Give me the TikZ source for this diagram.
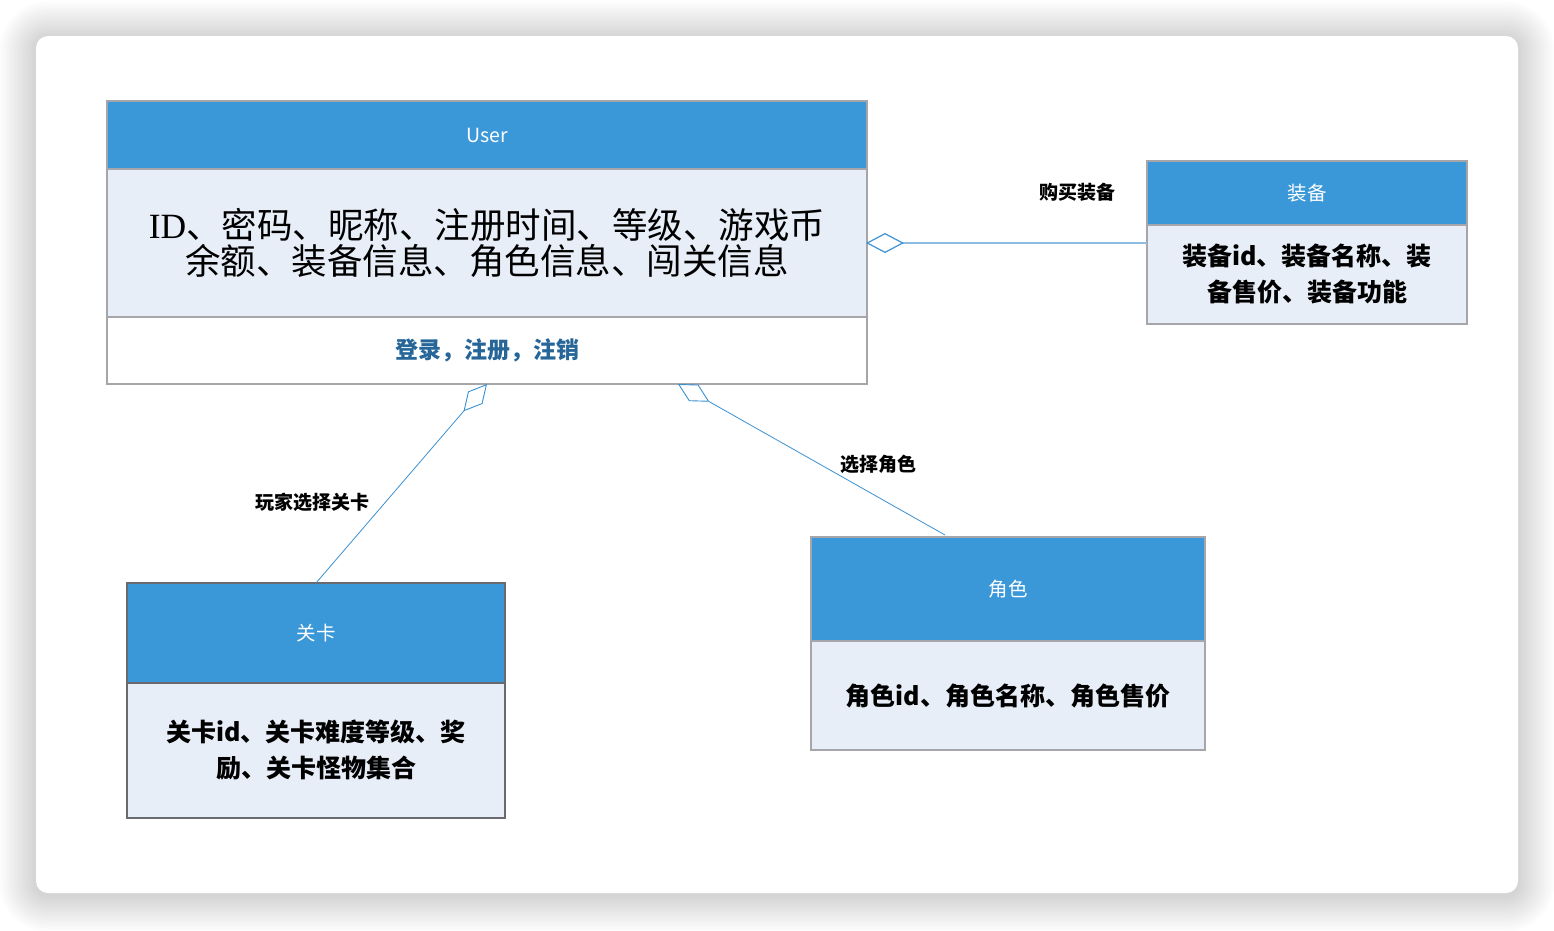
\documentclass[tikz,border=0pt]{standalone}
\usepackage{fontspec}
\setmainfont{Liberation Sans}
\newfontfamily\cjk{Noto Sans CJK SC}
\newfontfamily\serifid{Liberation Serif}
\usetikzlibrary{arrows.meta,calc}
\definecolor{hdr}{RGB}{58,152,216}
\definecolor{bodyc}{RGB}{232,238,248}
\definecolor{bordc}{RGB}{165,165,170}
\definecolor{bordd}{RGB}{105,105,110}
\definecolor{linkc}{RGB}{58,145,210}
\definecolor{linkl}{RGB}{140,188,225}
\definecolor{opsc}{RGB}{38,102,152}
\tikzset{
  box/.style={draw=bordc, line width=1.2pt, inner sep=0pt, outer sep=0pt, anchor=north west, align=center},
  hdrbox/.style={box, fill=hdr, text=white, font=\cjk\fontsize{19.5}{22}\selectfont},
  bodybox/.style={box, fill=bodyc, text=black, font=\cjk\bfseries\fontsize{25}{36}\selectfont},
  lbl/.style={font=\cjk\bfseries\fontsize{19}{22}\selectfont, text=black, inner sep=0pt},
  agg/.style={draw=linkc, line width=0.8pt, {Diamond[open, length=36pt, width=19pt, line width=0.9pt]}-},
}
\begin{document}
\begin{tikzpicture}[x=1pt,y=-1pt]
\useasboundingbox (0,0) rectangle (1554,930);
\fill[white] (0,0) rectangle (1554,930);
% card shadow
\foreach \i [evaluate=\i as \d using 2.6*\i, evaluate=\i as \r using 12+2.6*\i] in {1,...,14}
  \fill[black, opacity=0.013, rounded corners=\r pt] ({36-\d},{38-\d}) rectangle ({1518+\d},{895+\d});
\fill[white, rounded corners=12pt] (36,36) rectangle (1518,893);

% User class
\node[hdrbox, minimum width=760pt, minimum height=68pt] (user-head) at (107,101) {User};
\node[box, fill=bodyc, minimum width=760pt, minimum height=148pt, font=\cjk\fontsize{35.5}{36}\selectfont] (user-body) at (107,169)
  {{\serifid ID}、密码、昵称、注册时间、等级、游戏币\\余额、装备信息、角色信息、闯关信息};
\node[box, fill=white, text=opsc, minimum width=760pt, minimum height=67pt, font=\cjk\bfseries\fontsize{23}{26}\selectfont] (user-ops) at (107,317) {登录，注册，注销};

% 装备
\node[hdrbox, minimum width=320pt, minimum height=64pt] (zb-head) at (1147,161) {装备};
\node[bodybox, minimum width=320pt, minimum height=99pt] (zb-body) at (1147,225) {装备id、装备名称、装\\备售价、装备功能};

% 关卡
\node[hdrbox, draw=bordd, minimum width=378pt, minimum height=100pt] (gk-head) at (127,583) {关卡};
\node[bodybox, draw=bordd, minimum width=378pt, minimum height=135pt] (gk-body) at (127,683) {关卡id、关卡难度等级、奖\\励、关卡怪物集合};

% 角色
\node[hdrbox, minimum width=394pt, minimum height=104pt] (js-head) at (811,537) {角色};
\node[bodybox, minimum width=394pt, minimum height=109pt] (js-body) at (811,641) {角色id、角色名称、角色售价};

% connectors
\coordinate (zb-end) at (user-body.east -| zb-body.west);
\draw[agg, draw=linkl, line width=1.6pt] (user-body.east) -- (zb-end);
\path[draw=linkc, line width=0.9pt] (user-body.east) -- ++(18,-9.5) -- ++(18,9.5) -- ++(-18,9.5) -- cycle;

\draw[agg] (user-ops.south) -- (gk-head.north);

\coordinate (js-tip) at ($(user-ops.south west)+(571,0)$);
\coordinate (js-end) at ($(js-head.north west)+(134,-2)$);
\draw[agg] (js-tip) -- (js-end);

% labels
\node[lbl] (l-zb) at (1077,192) {购买装备};
\node[lbl] (l-gk) at (312,502) {玩家选择关卡};
\node[lbl] (l-js) at (878,464) {选择角色};
\end{tikzpicture}
\end{document}
